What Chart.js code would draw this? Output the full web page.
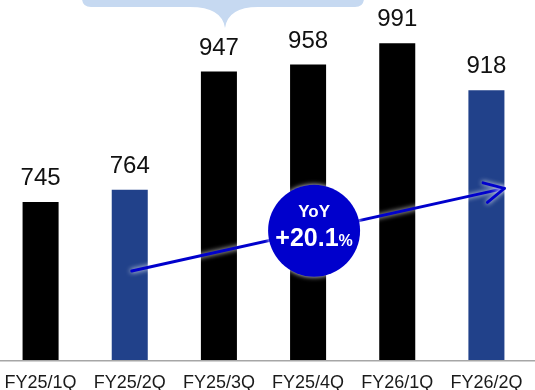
<!DOCTYPE html>
<html>
<head>
<meta charset="utf-8">
<script src="https://cdn.jsdelivr.net/npm/chart.js@4/dist/chart.umd.min.js"></script>
<style>
  html, body { margin: 0; padding: 0; background: #fff; overflow: hidden; }
  #wrap { position: absolute; left: -4px; top: 0; width: 539px; height: 390px; }
</style>
</head>
<body>
<div id="wrap"><canvas id="salesChart"></canvas></div>
<script>
// 数据
const quarters = ['FY25/1Q', 'FY25/2Q', 'FY25/3Q', 'FY25/4Q', 'FY26/1Q', 'FY26/2Q'];
const sales = [745, 764, 947, 958, 991, 918];
const barColors = ['#000000', '#21418a', '#000000', '#000000', '#000000', '#21418a'];
const yoyLabel = 'YoY';
const yoyValue = '+20.1';
const yAxisMin = 500;
const yAxisMax = 1058;

const FONT = '"Liberation Sans", Arial, sans-serif';

// 箭头两端 (类别索引, 数值)
const arrowFrom = { index: 1, value: 638 };
const arrowTo = { index: 5, value: 766 };

// 装饰: 顶部说明框、基线、数值、箭头、YoY 圆
const decorPlugin = {
    id: 'decor',
    beforeDatasetsDraw(chart) {
        const ctx = chart.ctx;
        const y = chart.scales.y;

        // 顶部浅蓝说明框
        const left = 86, right = 368, bottom = 7, r = 9;
        const tipX = 229, tipY = 28;
        ctx.save();
        ctx.fillStyle = '#c6d9f1';
        ctx.beginPath();
        ctx.moveTo(left, -20);
        ctx.lineTo(right, -20);
        ctx.lineTo(right, bottom - r);
        ctx.quadraticCurveTo(right, bottom, right - r, bottom);
        ctx.lineTo(tipX + 33, bottom);
        ctx.quadraticCurveTo(tipX + 3, bottom, tipX, tipY);
        ctx.quadraticCurveTo(tipX - 3, bottom, tipX - 35, bottom);
        ctx.lineTo(left + r, bottom);
        ctx.quadraticCurveTo(left, bottom, left, bottom - r);
        ctx.closePath();
        ctx.fill();

        // 基线
        ctx.strokeStyle = '#a6a6a6';
        ctx.lineWidth = 1.5;
        ctx.beginPath();
        ctx.moveTo(0, y.bottom + 0.75);
        ctx.lineTo(chart.width, y.bottom + 0.75);
        ctx.stroke();
        ctx.restore();
    },
    afterDatasetsDraw(chart) {
        const ctx = chart.ctx;
        const xs = chart.scales.x;
        const ys = chart.scales.y;

        // 柱顶数值
        ctx.save();
        ctx.fillStyle = '#111111';
        ctx.font = '24px ' + FONT;
        ctx.textAlign = 'center';
        ctx.textBaseline = 'alphabetic';
        chart.getDatasetMeta(0).data.forEach((bar, i) => {
            ctx.fillText(String(sales[i]), bar.x, bar.y - 17);
        });
        ctx.restore();

        // 增长箭头
        const x1 = xs.getPixelForValue(arrowFrom.index) + 2;
        const y1 = ys.getPixelForValue(arrowFrom.value);
        const x2 = xs.getPixelForValue(arrowTo.index) + 18;
        const y2 = ys.getPixelForValue(arrowTo.value);
        const ang = Math.atan2(y2 - y1, x2 - x1);
        const head = 22, spread = 0.47;

        ctx.save();
        ctx.strokeStyle = '#0000cc';
        ctx.lineWidth = 3;
        ctx.lineCap = 'round';
        ctx.lineJoin = 'round';
        ctx.shadowColor = 'rgba(255,255,255,0.95)';
        ctx.shadowBlur = 5;
        ctx.beginPath();
        ctx.moveTo(x1, y1);
        ctx.lineTo(x2, y2);
        ctx.stroke();
        ctx.beginPath();
        ctx.moveTo(x2 - head * Math.cos(ang - spread), y2 - head * Math.sin(ang - spread));
        ctx.lineTo(x2, y2);
        ctx.lineTo(x2 - head * Math.cos(ang + spread), y2 - head * Math.sin(ang + spread));
        ctx.stroke();
        ctx.restore();

        // YoY 圆
        const cx = (x1 + x2) / 2 - 4;
        const cy = (y1 + y2) / 2 + 1;
        ctx.save();
        ctx.fillStyle = '#0000cc';
        ctx.shadowColor = 'rgba(255,255,255,0.9)';
        ctx.shadowBlur = 5;
        ctx.beginPath();
        ctx.arc(cx, cy, 46, 0, Math.PI * 2);
        ctx.fill();
        ctx.restore();

        ctx.save();
        ctx.fillStyle = '#ffffff';
        ctx.textBaseline = 'alphabetic';
        ctx.textAlign = 'center';
        ctx.font = 'bold 17px ' + FONT;
        ctx.fillText(yoyLabel, cx, cy - 14);

        ctx.font = 'bold 25px ' + FONT;
        const wMain = ctx.measureText(yoyValue).width;
        ctx.font = 'bold 16px ' + FONT;
        const wPct = ctx.measureText('%').width;
        const startX = cx - (wMain + wPct) / 2;
        ctx.textAlign = 'left';
        ctx.font = 'bold 25px ' + FONT;
        ctx.fillText(yoyValue, startX, cy + 15);
        ctx.font = 'bold 16px ' + FONT;
        ctx.fillText('%', startX + wMain, cy + 15);
        ctx.restore();
    }
};

// 初始化图表
const ctx = document.getElementById('salesChart').getContext('2d');
const salesChart = new Chart(ctx, {
    type: 'bar',
    data: {
        labels: quarters,
        datasets: [{
            data: sales,
            backgroundColor: barColors,
            borderWidth: 0,
            barPercentage: 0.404,
            categoryPercentage: 1
        }]
    },
    options: {
        responsive: true,
        maintainAspectRatio: false,
        animation: false,
        layout: { padding: { left: 0, right: 4, top: 0, bottom: 0 } },
        plugins: {
            legend: { display: false },
            tooltip: { enabled: false }
        },
        scales: {
            x: {
                grid: { display: false },
                border: { display: false },
                ticks: {
                    color: '#1a1a1a',
                    font: { family: FONT, size: 18 },
                    padding: 4,
                    maxRotation: 0,
                    autoSkip: false
                },
                afterFit: scale => { scale.height = 30; }
            },
            y: {
                display: false,
                min: yAxisMin,
                max: yAxisMax
            }
        }
    },
    plugins: [decorPlugin]
});
</script>
</body>
</html>
